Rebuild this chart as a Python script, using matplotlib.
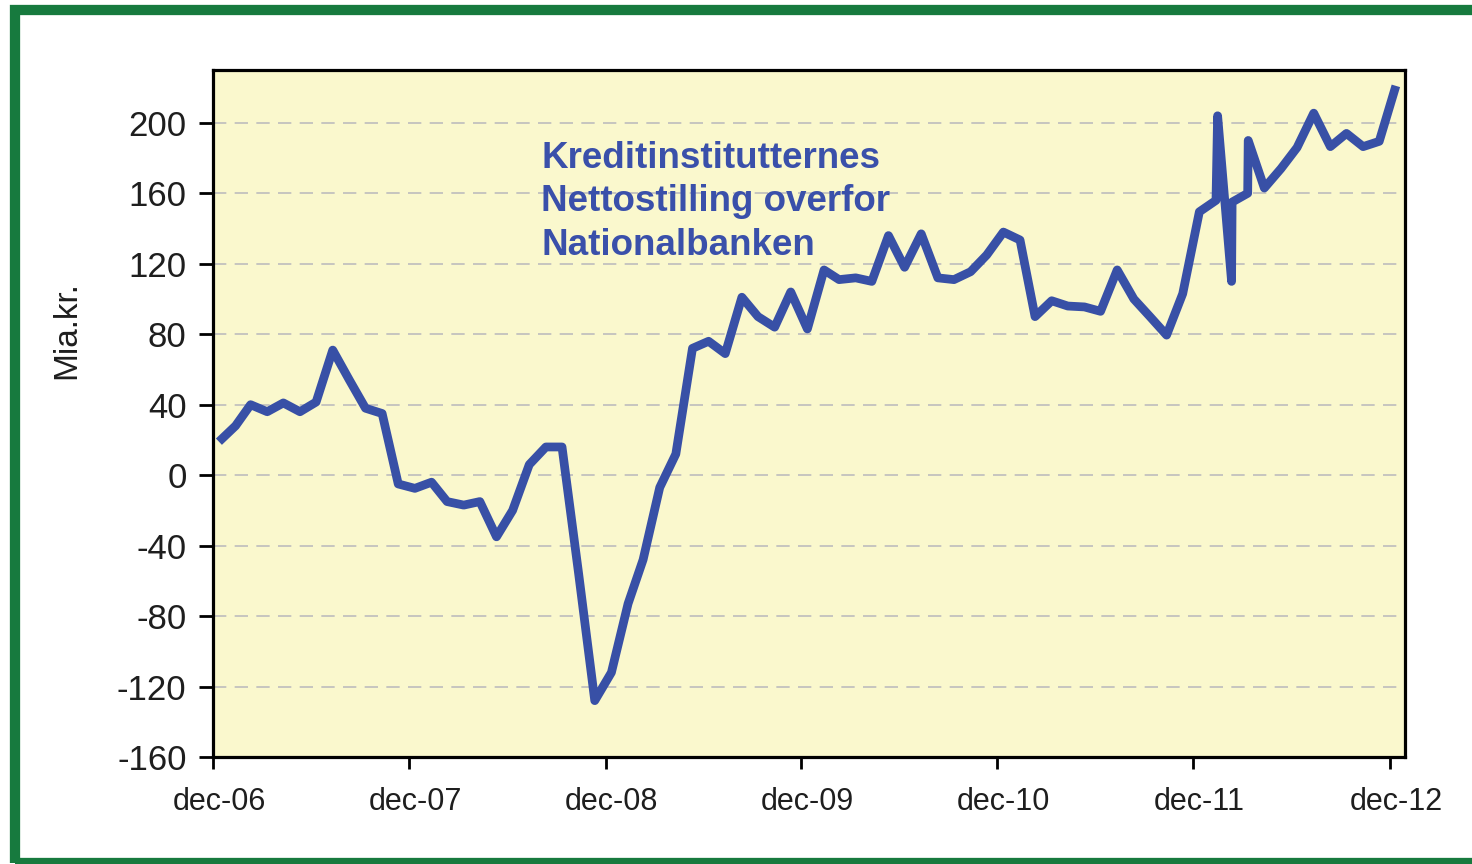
import matplotlib
matplotlib.use("Agg")
import matplotlib.pyplot as plt
import matplotlib.transforms as mtransforms
from matplotlib.patches import Rectangle
import pandas as pd

# ---- data ----
dates = [
    "2006-12-31", "2007-01-31", "2007-02-28", "2007-03-31", "2007-04-30", "2007-05-31",
    "2007-06-30", "2007-07-31", "2007-08-31", "2007-09-30", "2007-10-31", "2007-11-30",
    "2007-12-31", "2008-01-31", "2008-02-29", "2008-03-31", "2008-04-30", "2008-05-31",
    "2008-06-30", "2008-07-31", "2008-08-31", "2008-09-30", "2008-10-31", "2008-11-30",
    "2008-12-31", "2009-01-31", "2009-02-28", "2009-03-31", "2009-04-30", "2009-05-31",
    "2009-06-30", "2009-07-31", "2009-08-31", "2009-09-30", "2009-10-31", "2009-11-30",
    "2009-12-31", "2010-01-31", "2010-02-28", "2010-03-31", "2010-04-30", "2010-05-31",
    "2010-06-30", "2010-07-31", "2010-08-31", "2010-09-30", "2010-10-31", "2010-11-30",
    "2010-12-31", "2011-01-31", "2011-02-28", "2011-03-31", "2011-04-30", "2011-05-31",
    "2011-06-30", "2011-07-31", "2011-08-31", "2011-09-30", "2011-10-31", "2011-11-30",
    "2011-12-31", "2012-01-31", "2012-02-03", "2012-02-29", "2012-03-01", "2012-03-30",
    "2012-03-31", "2012-04-30", "2012-05-31", "2012-06-30", "2012-07-31", "2012-08-31",
    "2012-09-30", "2012-10-31", "2012-11-30", "2012-12-31",
]
values = [
    19, 28, 40, 36, 41, 36,
    41.5, 71, 54, 38, 35, -5,
    -7.5, -4, -15, -17, -15, -35,
    -20, 6, 16, 16, -56, -128,
    -112, -73, -48, -7, 12, 72,
    76, 69, 101, 90, 84, 104,
    83, 116.5, 111, 112, 110, 136,
    118, 137, 112, 111, 115.5, 125,
    138, 133.5, 90, 99, 96, 95.5,
    93, 116.5, 100, 90, 79.5, 103,
    149.5, 156, 204, 110, 155, 160,
    190, 163, 174, 186, 205.5, 186.5,
    194, 186.5, 189.5, 221,
]
tick_years = [2006, 2007, 2008, 2009, 2010, 2011, 2012]
tick_labels = ["dec-06", "dec-07", "dec-08", "dec-09", "dec-10", "dec-11", "dec-12"]
y_ticks = [-160, -120, -80, -40, 0, 40, 80, 120, 160, 200]
annotation = "Kreditinstitutternes\nNettostilling overfor\nNationalbanken"
y_label = "Mia.kr."

# ---- style ----
plt.rcParams['font.family'] = ['Liberation Sans', 'DejaVu Sans']
line_color = "#3850A6"
text_color = "#1E1E1E"

fig = plt.figure(figsize=(14.72, 8.64), dpi=100)
fig.patch.set_facecolor("white")

# green frame
fig.patches.append(Rectangle((15 / 1472, 1 - 863 / 864), 1.2, (863 - 10) / 864,
                             transform=fig.transFigure, fill=False,
                             edgecolor="#177A3E", linewidth=7.4, zorder=0))

ax = fig.add_axes([213 / 1472, 1 - 757 / 864, (1405 - 213) / 1472, (757 - 70) / 864])
ax.set_facecolor("#FAF8CD")

x = pd.to_datetime(dates)
ax.plot(x, values, color=line_color, linewidth=6.3, solid_joinstyle="round",
        solid_capstyle="butt", zorder=3)

ax.set_ylim(-160, 230)
ax.set_yticks(y_ticks)
ax.set_yticklabels([str(v) for v in y_ticks])
ticks = [pd.Timestamp(f"{yr}-12-20") for yr in tick_years]
ax.set_xticks(ticks)
ax.set_xticklabels(tick_labels)
ax.set_xlim(pd.Timestamp("2006-12-20"), pd.Timestamp("2013-01-17"))

for yv in y_ticks[1:]:
    ax.axhline(yv, color="#BDBDBD", linewidth=1.2, linestyle=(0, (8, 5)), zorder=1)

for s in ax.spines.values():
    s.set_linewidth(2.3)
    s.set_color("black")
    s.set_zorder(4)

ax.tick_params(axis="y", direction="out", length=10, width=2, pad=9,
               labelsize=25, labelcolor=text_color)
ax.tick_params(axis="x", direction="out", length=8.5, width=2, pad=13,
               labelsize=22, labelcolor=text_color)

offset = mtransforms.ScaledTranslation(6 / 100, 0, fig.dpi_scale_trans)
for lbl in ax.get_xticklabels():
    lbl.set_transform(lbl.get_transform() + offset)

fig.text(67 / 1472, 1 - 330 / 864, y_label, rotation=90, ha="center", va="center",
         fontsize=24, color=text_color)

ax.text(541 / 1472, 1 - 141 / 864, annotation, transform=fig.transFigure,
        ha="left", va="top", fontsize=26.5, fontweight="bold", color="#3A50AA",
        linespacing=1.31, zorder=5)

fig.savefig("out.png", dpi=100)
